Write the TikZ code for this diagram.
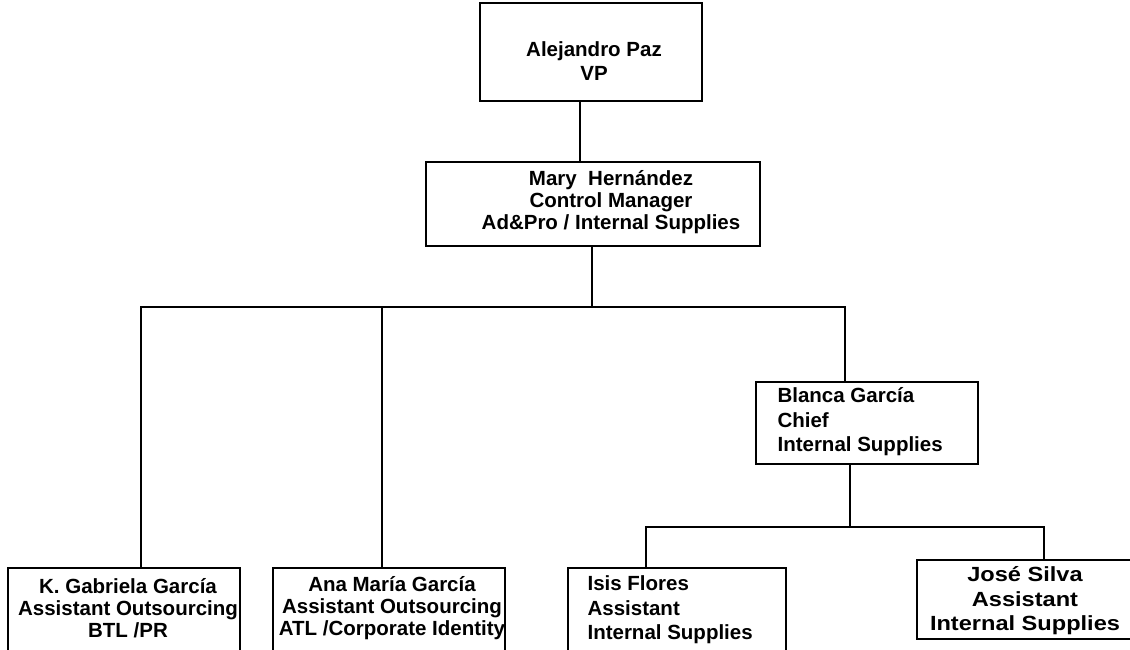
\documentclass[tikz,border=0pt]{standalone}
\usepackage{fontspec}
\setmainfont{Liberation Sans}
\newfontfamily\widesans{Liberation Sans}[FakeStretch=1.15]
\usetikzlibrary{calc}

\tikzset{
  box/.style={draw, line width=1.3pt, inner sep=0pt},
  txt/.style={inner sep=0pt, font=\bfseries\fontsize{20.5}{22}\selectfont},
  txtloose/.style={inner sep=0pt, font=\bfseries\fontsize{20.5}{24.5}\selectfont},
  link/.style={line width=1.3pt}
}

\begin{document}
\begin{tikzpicture}[x=1pt,y=-1pt]
  \fill[white] (0,0) rectangle (1130,649);
  \useasboundingbox (0,0) rectangle (1130,649);

  % boxes
  \node[box, minimum width=222pt, minimum height=98pt] (vp) at (591,52) {};
  \node[box, minimum width=334pt, minimum height=84pt] (mary) at (593,204) {};
  \node[box, minimum width=222pt, minimum height=82pt] (blanca) at (867,423) {};
  \node[box, minimum width=232pt, minimum height=88pt] (kg) at (124,612) {};
  \node[box, minimum width=232pt, minimum height=88pt] (ana) at (389,612) {};
  \node[box, minimum width=218pt, minimum height=108pt] (isis) at (677,622) {};
  \node[box, minimum width=214pt, minimum height=79pt] (jose) at (1024,599.5) {};

  % texts
  \node[txtloose, align=center] (vp-t) at ($(vp.center)+(3,9)$) {Alejandro Paz\\VP};
  \node[txt, align=center] (mary-t) at ($(mary.center)+(18,-2)$)
    {Mary\ \ Hernández\\Control Manager\\Ad\&Pro / Internal Supplies};
  \node[txtloose, align=left, anchor=west] (blanca-t) at ($(blanca.west)+(22,-1)$)
    {Blanca García\\Chief\\Internal Supplies};
  \node[txt, align=center] (kg-t) at ($(kg.center)+(4,-4)$)
    {K. Gabriela García\\Assistant Outsourcing\\BTL /PR};
  \node[txt, align=center] (ana-t) at ($(ana.center)+(3,-4)$)
    {Ana María García\\Assistant Outsourcing\\ATL /Corporate Identity};
  \node[txtloose, align=left, anchor=west] (isis-t) at ($(isis.west)+(20,-12)$)
    {Isis Flores\\Assistant\\Internal Supplies};
  \node[txtloose, align=center, font=\widesans\bfseries\fontsize{20.5}{24.5}\selectfont]
    (jose-t) at ($(jose.center)+(1,1.5)$) {José Silva\\Assistant\\Internal Supplies};

  % junction points of the two branch lines
  \coordinate (hub) at (592,307);
  \coordinate (hub2) at (850,527);

  % connectors
  \draw[link] ($(vp.south)+(-11,0)$) -- ($(mary.north)+(-13,0)$);
  \draw[link] ($(mary.south)+(-1,0)$) -- (hub);
  \draw[link] ($(kg.north)+(17,0)$) |- (hub);
  \draw[link] ($(ana.north)+(-7,0)$) |- (hub);
  \draw[link] ($(blanca.north)+(-22,0)$) |- (hub);
  \draw[link] ($(blanca.south)+(-17,0)$) -- (hub2);
  \draw[link] ($(isis.north)+(-31,0)$) |- (hub2);
  \draw[link] ($(jose.north)+(20,0)$) |- (hub2);
\end{tikzpicture}
\end{document}
